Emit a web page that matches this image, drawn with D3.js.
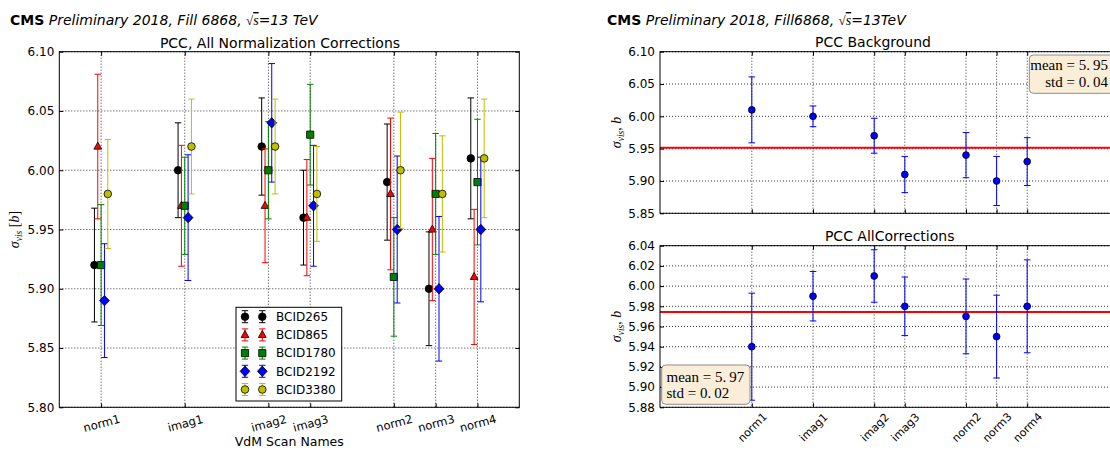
<!DOCTYPE html>
<html>
<head>
<meta charset="utf-8">
<script src="https://cdn.jsdelivr.net/npm/d3@7"></script>
<style>
  body { margin: 0; background: #fff; }
</style>
</head>
<body>
<svg id="chart" width="1110" height="450" font-family="DejaVu Sans, sans-serif"></svg>
<script>
// ---- data ----
const scans = ["norm1", "imag1", "imag2", "imag3", "norm2", "norm3", "norm4"];
const scanPos = [0, 2, 4, 5, 7, 8, 9];

const bcids = ["BCID265", "BCID865", "BCID1780", "BCID2192", "BCID3380"];
const bcidColors = ["#000000", "#ff0000", "#008000", "#0000ff", "#bfbf00"];
const bcidMarkers = ["circle", "triangle", "square", "diamond", "circle"];

const sigma265  = [5.92, 6.00, 6.02, 5.96, 5.99, 5.90, 6.01];
const err265    = [0.048, 0.040, 0.041, 0.040, 0.049, 0.048, 0.051];
const sigma865  = [6.02, 5.97, 5.97, 5.96, 5.98, 5.95, 5.91];
const err865    = [0.061, 0.051, 0.048, 0.049, 0.064, 0.060, 0.057];
const sigma1780 = [5.92, 5.97, 6.00, 6.03, 5.91, 5.98, 5.99];
const err1780   = [0.051, 0.041, 0.041, 0.0425, 0.050, 0.051, 0.053];
const sigma2192 = [5.89, 5.96, 6.04, 5.97, 5.95, 5.90, 5.95];
const err2192   = [0.048, 0.053, 0.050, 0.051, 0.062, 0.061, 0.061];
const sigma3380 = [5.98, 6.02, 6.02, 5.98, 6.00, 5.98, 6.01];
const err3380   = [0.046, 0.040, 0.040, 0.040, 0.049, 0.049, 0.050];

const bkgSigma = [6.01, 6.00, 5.97, 5.91, 5.94, 5.90, 5.93];
const bkgErr   = [0.051, 0.016, 0.027, 0.028, 0.035, 0.038, 0.037];
const allSigma = [5.94, 5.99, 6.01, 5.98, 5.97, 5.95, 5.98];
const allErr   = [0.053, 0.0245, 0.026, 0.029, 0.037, 0.041, 0.046];

const leftYTicks = [5.80, 5.85, 5.90, 5.95, 6.00, 6.05, 6.10];
const bkgYTicks  = [5.85, 5.90, 5.95, 6.00, 6.05, 6.10];
const allYTicks  = [5.88, 5.90, 5.92, 5.94, 5.96, 5.98, 6.00, 6.02, 6.04];

const bcidSigma = [sigma265, sigma865, sigma1780, sigma2192, sigma3380];
const bcidErr   = [err265, err865, err1780, err2192, err3380];

// ---- helpers ----
const svg = d3.select("#chart");
const fmt2 = d3.format(".2f");
const SERIF = "Liberation Serif, DejaVu Serif, serif";

function markerPath(type) {
  switch (type) {
    case "triangle": return "M0,-4.4L3.9,2.6L-3.9,2.6Z";
    case "square":   return "M-3.6,-3.6H3.6V3.6H-3.6Z";
    case "diamond":  return "M0,-5.2L4.9,0L0,5.2L-4.9,0Z";
    default: return d3.symbol(d3.symbolCircle, Math.PI * 3.8 * 3.8)();
  }
}

// dotted grid at the scan positions and the y ticks
function grid(box, x, y, yTicks) {
  const g = svg.append("g");
  const dotted = s => s.attr("stroke", "#000").attr("stroke-width", 0.8)
                       .attr("stroke-dasharray", "1,2").attr("fill", "none");
  g.selectAll("line.gx").data(scanPos).join("line")
    .attr("x1", d => x(d)).attr("x2", d => x(d))
    .attr("y1", box.y0).attr("y2", box.y1).call(dotted);
  g.selectAll("line.gy").data(yTicks).join("line")
    .attr("x1", box.x0).attr("x2", box.x1)
    .attr("y1", d => y(d)).attr("y2", d => y(d)).call(dotted);
  return g;
}

// inward ticks on all four sides, tick labels, and the frame
function axesOnTop(box, x, y, yTicks, showXLabels, xLabelShift, xRot, xLabelSize) {
  const g = svg.append("g");
  const styleAxis = s => {
    s.select(".domain").remove();
    s.selectAll("line").attr("stroke", "#000");
    s.selectAll("text").attr("fill", "#000").attr("font-family", "DejaVu Sans, sans-serif")
      .attr("font-size", 12);
  };
  g.append("g").attr("transform", `translate(${box.x0},0)`)
    .call(d3.axisLeft(y).tickValues(yTicks).tickFormat(fmt2)
      .tickSizeInner(-4).tickSizeOuter(0).tickPadding(5))
    .call(styleAxis);
  g.append("g").attr("transform", `translate(${box.x1},0)`)
    .call(d3.axisRight(y).tickValues(yTicks).tickFormat("")
      .tickSizeInner(-4).tickSizeOuter(0))
    .call(styleAxis);
  g.append("g").attr("transform", `translate(0,${box.y0})`)
    .call(d3.axisTop(x).tickValues(scanPos).tickFormat("")
      .tickSizeInner(-4).tickSizeOuter(0))
    .call(styleAxis);
  const bx = g.append("g").attr("transform", `translate(0,${box.y1})`)
    .call(d3.axisBottom(x).tickValues(scanPos)
      .tickFormat((d, i) => showXLabels ? scans[i] : "")
      .tickSizeInner(-4).tickSizeOuter(0))
    .call(styleAxis);
  if (showXLabels) {
    bx.selectAll(".tick text")
      .attr("y", 0).attr("dy", "0.35em")
      .attr("font-size", xLabelSize)
      .attr("text-anchor", "middle")
      .attr("transform", `translate(0,${xLabelShift}) rotate(${xRot})`);
  }
  g.append("rect")
    .attr("x", box.x0).attr("y", box.y0)
    .attr("width", box.x1 - box.x0).attr("height", box.y1 - box.y0)
    .attr("fill", "none").attr("stroke", "#000").attr("stroke-width", 1);
}

function errorBar(g, cx, yTop, yBot, color, capHalf) {
  g.append("line").attr("x1", cx).attr("x2", cx).attr("y1", yTop).attr("y2", yBot)
    .attr("stroke", color).attr("stroke-width", 1);
  [yTop, yBot].forEach(yy => g.append("line")
    .attr("x1", cx - capHalf).attr("x2", cx + capHalf).attr("y1", yy).attr("y2", yy)
    .attr("stroke", color).attr("stroke-width", 1));
}

function sigmaLabel(parent, px, py, suffixBracket) {
  const t = parent.append("text")
    .attr("transform", `translate(${px},${py}) rotate(-90)`)
    .attr("text-anchor", "middle").attr("font-size", 14)
    .attr("font-family", SERIF);
  t.append("tspan").attr("font-style", "italic").text("σ");
  t.append("tspan").attr("font-style", "italic").attr("font-size", 9.5).attr("dy", 3).text("vis");
  if (suffixBracket) {
    t.append("tspan").attr("dy", -3).text(" [");
    t.append("tspan").attr("font-style", "italic").text("b");
    t.append("tspan").text("]");
  } else {
    t.append("tspan").attr("dy", -3).text(", ");
    t.append("tspan").attr("font-style", "italic").text("b");
  }
}

function header(px, fillText, energyText) {
  const t = svg.append("text").attr("x", px).attr("y", 25).attr("font-size", 14);
  t.append("tspan").attr("font-weight", "bold").text("CMS");
  t.append("tspan").attr("font-style", "italic").text(" Preliminary 2018, " + fillText + ", ");
  t.append("tspan").attr("font-family", SERIF).attr("font-size", 13).text("√");
  t.append("tspan").attr("font-style", "italic").attr("font-family", SERIF)
    .attr("text-decoration", "overline").text("s");
  t.append("tspan").attr("font-style", "italic").text(energyText);
}

// ---- left panel: all BCIDs ----
const boxL = { x0: 59.3, x1: 519.3, y0: 51.7, y1: 407.3 };
const xL = d3.scaleLinear().domain([-1, 10]).range([boxL.x0, boxL.x1]);
const yL = d3.scaleLinear().domain([5.80, 6.10]).range([boxL.y1, boxL.y0]);

header(10, "Fill 6868", "=13 TeV");
svg.append("text").attr("x", 280).attr("y", 48).attr("text-anchor", "middle")
  .attr("font-size", 14).text("PCC, All Normalization Corrections");

grid(boxL, xL, yL, leftYTicks);

const seriesOffset = [-0.16, -0.08, 0, 0.08, 0.16];
bcids.forEach((name, si) => {
  const g = svg.append("g");
  const col = bcidColors[si];
  bcidSigma[si].forEach((v, i) => {
    const cx = xL(scanPos[i] + seriesOffset[si]);
    errorBar(g, cx, yL(v + bcidErr[si][i]), yL(v - bcidErr[si][i]), col, 3.2);
  });
  bcidSigma[si].forEach((v, i) => {
    const cx = xL(scanPos[i] + seriesOffset[si]);
    g.append("path").attr("d", markerPath(bcidMarkers[si]))
      .attr("transform", `translate(${cx},${yL(v)})`)
      .attr("fill", col).attr("stroke", "#000").attr("stroke-width", 0.8);
  });
});

axesOnTop(boxL, xL, yL, leftYTicks, true, 16, -15, 11.5);

svg.append("text").attr("x", (boxL.x0 + boxL.x1) / 2).attr("y", 446)
  .attr("text-anchor", "middle").attr("font-size", 12.5).text("VdM Scan Names");
sigmaLabel(svg, 19, (boxL.y0 + boxL.y1) / 2, true);

// legend
const leg = svg.append("g");
leg.append("rect").attr("x", 236).attr("y", 307.3).attr("width", 105.7).attr("height", 93.7)
  .attr("fill", "#fff").attr("stroke", "#000").attr("stroke-width", 1);
bcids.forEach((name, si) => {
  const ry = 316.7 + si * 18.2;
  [245, 262.3].forEach(mx => {
    errorBar(leg, mx, ry - 6, ry + 6, bcidColors[si], 3.2);
    leg.append("path").attr("d", markerPath(bcidMarkers[si]))
      .attr("transform", `translate(${mx},${ry})`)
      .attr("fill", bcidColors[si]).attr("stroke", "#000").attr("stroke-width", 0.8);
  });
  leg.append("text").attr("x", 276).attr("y", ry).attr("dy", "0.36em")
    .attr("font-size", 12).text(name);
});

// ---- right panels: scan averages ----
header(607, "Fill6868", "=13TeV");

function statPanel(box, yDomain, yTicks, vals, errs, title, titleX, titleY, showXLabels, statBox) {
  const x = d3.scaleLinear().domain([-3, 12]).range([box.x0, box.x1]);
  const y = d3.scaleLinear().domain(yDomain).range([box.y1, box.y0]);
  svg.append("text").attr("x", titleX).attr("y", titleY).attr("text-anchor", "middle")
    .attr("font-size", 14).text(title);
  grid(box, x, y, yTicks);

  const mean = d3.mean(vals);
  const std = Math.sqrt(d3.mean(vals, v => (v - mean) * (v - mean)));
  const g = svg.append("g");
  g.append("line").attr("x1", box.x0).attr("x2", box.x1)
    .attr("y1", y(mean)).attr("y2", y(mean))
    .attr("stroke", "#ff0000").attr("stroke-width", 2);
  vals.forEach((v, i) => errorBar(g, x(scanPos[i]), y(v + errs[i]), y(v - errs[i]), "#0000ff", 3.3));
  vals.forEach((v, i) => g.append("circle")
    .attr("cx", x(scanPos[i])).attr("cy", y(v)).attr("r", 3.4)
    .attr("fill", "#0000ff").attr("stroke", "#000").attr("stroke-width", 0.8));

  axesOnTop(box, x, y, yTicks, showXLabels, 20, -45, 11);
  sigmaLabel(svg, 621, (box.y0 + box.y1) / 2, false);

  // mean / std annotation
  const sb = svg.append("g");
  sb.append("rect").attr("x", statBox.x).attr("y", statBox.y)
    .attr("width", statBox.w).attr("height", statBox.h).attr("rx", 4)
    .attr("fill", "#faeed9").attr("stroke", "#8c8c8c").attr("stroke-width", 1);
  const lines = [["mean", mean], ["std", std]];
  lines.forEach((ln, k) => {
    const parts = fmt2(ln[1]).split(".");
    const t = sb.append("text").attr("x", statBox.tx).attr("y", statBox.ty + k * 16.6)
      .attr("text-anchor", statBox.anchor)
      .attr("font-family", SERIF).attr("font-size", 15);
    t.append("tspan").text(ln[0] + " = " + parts[0] + ".");
    t.append("tspan").attr("dx", 3).text(parts[1]);
  });
}

statPanel({ x0: 660, x1: 1119, y0: 51.7, y1: 213.3 }, [5.85, 6.10], bkgYTicks,
  bkgSigma, bkgErr, "PCC Background", 873, 47, false,
  { x: 1029.3, y: 55, w: 110, h: 38.3, tx: 1108, ty: 70, anchor: "end" });

statPanel({ x0: 660, x1: 1119, y0: 245.7, y1: 407.3 }, [5.88, 6.04], allYTicks,
  allSigma, allErr, "PCC AllCorrections", 889.7, 241, true,
  { x: 661.7, y: 365, w: 88.3, h: 39.3, tx: 666.5, ty: 381.5, anchor: "start" });
</script>
</body>
</html>
